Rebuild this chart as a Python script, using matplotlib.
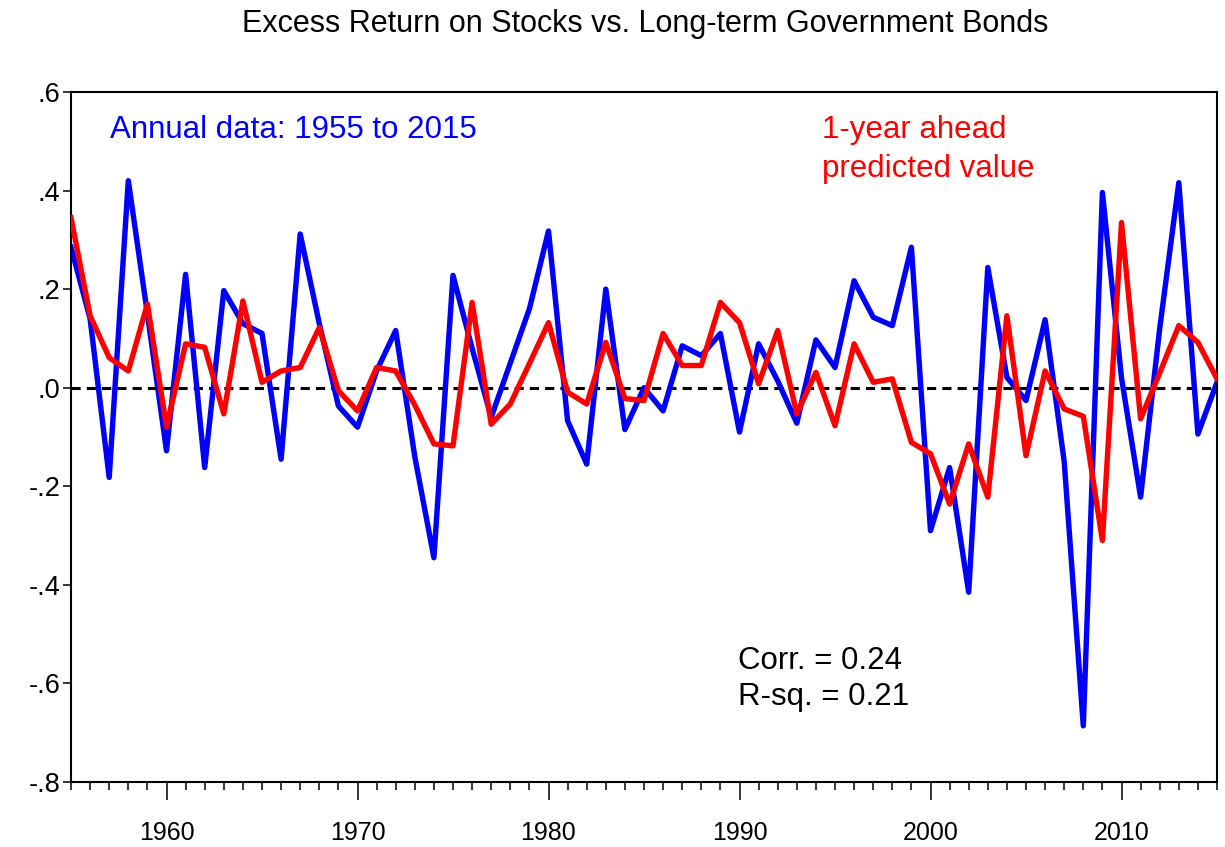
import matplotlib
matplotlib.use("Agg")
import matplotlib.pyplot as plt
from matplotlib.ticker import MultipleLocator

years = list(range(1955, 2016))
actual = [0.285, 0.14, -0.182, 0.42, 0.15, -0.128, 0.23, -0.162, 0.197, 0.13,
          0.11, -0.145, 0.312, 0.13, -0.037, -0.08, 0.034, 0.116, -0.14, -0.345,
          0.228, 0.08, -0.06, 0.05, 0.16, 0.318, -0.067, -0.155, 0.2, -0.085,
          0.0, -0.047, 0.085, 0.065, 0.11, -0.09, 0.089, 0.014, -0.072, 0.097,
          0.041, 0.217, 0.143, 0.126, 0.285, -0.29, -0.162, -0.415, 0.244, 0.021,
          -0.026, 0.138, -0.15, -0.686, 0.396, 0.02, -0.222, 0.12, 0.416, -0.094,
          0.011]
predicted = [0.345, 0.146, 0.061, 0.034, 0.17, -0.08, 0.089, 0.082, -0.053, 0.176,
             0.011, 0.034, 0.041, 0.122, -0.006, -0.047, 0.041, 0.034, -0.035, -0.114,
             -0.118, 0.173, -0.074, -0.033, 0.049, 0.132, -0.009, -0.033, 0.092, -0.022,
             -0.026, 0.11, 0.045, 0.045, 0.173, 0.132, 0.008, 0.116, -0.053, 0.031,
             -0.077, 0.089, 0.011, 0.018, -0.111, -0.134, -0.236, -0.114, -0.222, 0.146,
             -0.138, 0.034, -0.043, -0.058, -0.31, 0.335, -0.063, 0.03, 0.126, 0.092,
             0.018]
ytick_vals = [0.6, 0.4, 0.2, 0.0, -0.2, -0.4, -0.6, -0.8]
ytick_labels = [".6", ".4", ".2", ".0", "-.2", "-.4", "-.6", "-.8"]
xtick_vals = [1960, 1970, 1980, 1990, 2000, 2010]

plt.rcParams['font.family'] = ['Liberation Sans', 'DejaVu Sans']

fig = plt.figure(figsize=(12.25, 8.47), dpi=100)
ax = fig.add_axes([71/1225, 1-782/847, (1217-71)/1225, (782-92)/847])

ax.axhline(0, color='black', lw=2.2, ls=(0, (3, 2)), zorder=1)
ax.plot(years, actual, color='#0000FF', lw=3.9, zorder=2)
ax.plot(years, predicted, color='#FF0000', lw=3.9, zorder=3)

ax.set_xlim(1955, 2015)
ax.set_ylim(-0.8, 0.6)
ax.set_yticks(ytick_vals)
ax.set_yticklabels(ytick_labels, fontsize=19.5)
ax.set_xticks(xtick_vals)
ax.set_xticklabels([str(v) for v in xtick_vals], fontsize=18)
ax.xaxis.set_minor_locator(MultipleLocator(1))
ax.tick_params(axis='x', which='major', direction='out', length=13, width=1.1, pad=15)
ax.tick_params(axis='x', which='minor', direction='out', length=6, width=1.1)
ax.tick_params(axis='y', which='major', direction='out', length=6, width=1.1, pad=1.5)
for s in ax.spines.values():
    s.set_linewidth(1.5)
    s.set_color('black')

fs = 22.5
ax.text(0.034, 0.945, "Annual data: 1955 to 2015", transform=ax.transAxes,
        color='#0000FF', fontsize=fs, va='center', ha='left')
ax.text(0.655, 0.945, "1-year ahead", transform=ax.transAxes,
        color='#FF0000', fontsize=fs, va='center', ha='left')
ax.text(0.655, 0.888, "predicted value", transform=ax.transAxes,
        color='#FF0000', fontsize=fs, va='center', ha='left')
ax.text(0.582, 0.1754, "Corr. = 0.24", transform=ax.transAxes,
        color='black', fontsize=fs, va='center', ha='left')
ax.text(0.582, 0.1232, "R-sq. = 0.21", transform=ax.transAxes,
        color='black', fontsize=fs, va='center', ha='left')

fig.text(645/1225, 1-24/847, "Excess Return on Stocks vs. Long-term Government Bonds",
         ha='center', va='center', fontsize=22)

fig.savefig("out.png", dpi=100)
